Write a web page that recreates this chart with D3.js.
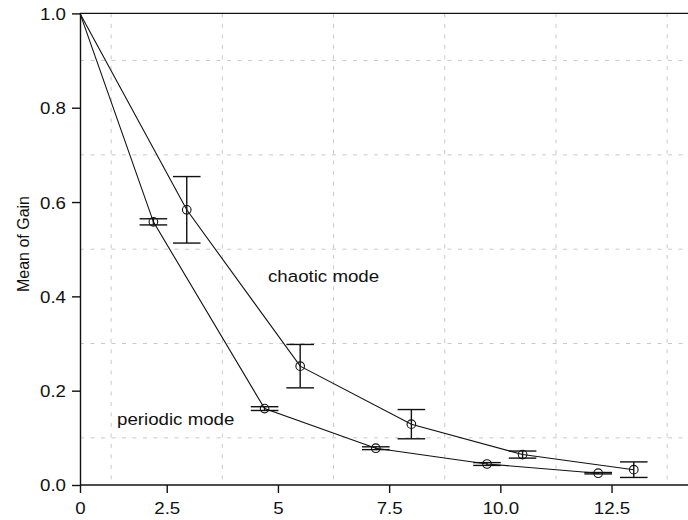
<!DOCTYPE html>
<html>
<head>
<meta charset="utf-8">
<script src="https://cdn.jsdelivr.net/npm/d3@7"></script>
<style>
  html, body { margin: 0; padding: 0; background: #fff; }
  svg { display: block; }
  text { font-family: "Liberation Sans", Arial, Helvetica, sans-serif; fill: #111; }
</style>
</head>
<body>
<svg id="chart" width="688" height="520"></svg>
<script>
// Axis ticks and grid
const xTickValues = [0.55, 2.5, 5, 7.5, 10, 12.5];
const xTickLabels = ["0", "2.5", "5", "7.5", "10.0", "12.5"];
const yTickValues = [0, 0.2, 0.4, 0.6, 0.8, 1.0];
const xGridValues = [1.25, 3.75, 6.25, 8.75, 11.25, 13.75];
const yGridValues = [0.1, 0.3, 0.5, 0.7, 0.9];

// Periodic mode: x position, mean gain, half-width of error bar
const periodicX    = [0.55, 2.2, 4.7, 7.2, 9.7, 12.2];
const periodicMean = [1.0, 0.558, 0.162, 0.078, 0.0445, 0.025];
const periodicErr  = [null, 0.0065, 0.004, 0.003, 0.003, 0.0015];

// Chaotic mode
const chaoticX    = [0.55, 2.95, 5.5, 8, 10.5, 13];
const chaoticMean = [1.0, 0.5835, 0.252, 0.129, 0.0645, 0.0325];
const chaoticErr  = [null, 0.0705, 0.046, 0.031, 0.0075, 0.0165];

const seriesLabels = ["periodic mode", "chaotic mode"];

const svg = d3.select("#chart");
const W = 688;

const x = d3.scaleLinear().domain([0.55, 15]).range([80, 80 + 14.45 * 44.48]);
const y = d3.scaleLinear().domain([0, 1]).range([485, 13.4]);

const fontSize = 17;
const stretch = 1.1;

// dashed grid
const grid = svg.append("g").attr("stroke", "#c9c9c9").attr("stroke-width", 1)
  .attr("stroke-dasharray", "4,6.5");
grid.selectAll("line.gx").data(xGridValues).join("line")
  .attr("x1", d => x(d)).attr("x2", d => x(d))
  .attr("y1", y(1)).attr("y2", y(0));
grid.selectAll("line.gy").data(yGridValues).join("line")
  .attr("x1", x(0.55)).attr("x2", W)
  .attr("y1", d => y(d)).attr("y2", d => y(d));

// top frame line
svg.append("line")
  .attr("x1", x(0.55)).attr("x2", W)
  .attr("y1", y(1)).attr("y2", y(1))
  .attr("stroke", "#111").attr("stroke-width", 1.4);

// axes
const xAxis = d3.axisBottom(x).tickValues(xTickValues)
  .tickFormat((d, i) => xTickLabels[i]).tickSize(8).tickSizeOuter(0);
const gx = svg.append("g").attr("transform", `translate(0,${y(0)})`).call(xAxis);
gx.select(".domain").attr("d", `M${x(0.55)},0H${W}`);

const yAxis = d3.axisLeft(y).tickValues(yTickValues)
  .tickFormat(d3.format(".1f")).tickSize(8).tickSizeOuter(0);
const gy = svg.append("g").attr("transform", `translate(${x(0.55)},0)`).call(yAxis);

[gx, gy].forEach(g => {
  g.select(".domain").attr("stroke", "#111").attr("stroke-width", 1.4);
  g.selectAll(".tick line").attr("stroke", "#111").attr("stroke-width", 1.4);
  g.selectAll(".tick text").attr("font-size", fontSize)
    .attr("font-family", "'Liberation Sans', Arial, sans-serif").attr("fill", "#111");
});
gx.selectAll(".tick text").attr("y", 0).attr("dy", 0)
  .attr("transform", `translate(0,29) scale(${stretch},1)`);
gy.selectAll(".tick text").attr("x", 0).attr("dy", "0.35em")
  .attr("transform", `translate(-14,0) scale(${stretch},1)`);

// y-axis title
svg.append("text")
  .attr("transform", `translate(29,244) rotate(-90)`)
  .attr("text-anchor", "middle")
  .attr("font-size", 16)
  .text("Mean of Gain");

// series
const series = [
  { xs: periodicX, m: periodicMean, e: periodicErr },
  { xs: chaoticX, m: chaoticMean, e: chaoticErr }
];
const capHalf = 13.8;
const line = d3.line().x(d => x(d.x)).y(d => y(d.m));

series.forEach(s => {
  const pts = s.xs.map((v, i) => ({ x: v, m: s.m[i], e: s.e[i] }));
  svg.append("path").datum(pts)
    .attr("d", line).attr("fill", "none")
    .attr("stroke", "#111").attr("stroke-width", 1.1);

  const bars = pts.filter(d => d.e !== null);
  const g = svg.append("g").attr("stroke", "#111").attr("stroke-width", 1.4).attr("fill", "none");
  g.selectAll("line.v").data(bars).join("line")
    .attr("x1", d => x(d.x)).attr("x2", d => x(d.x))
    .attr("y1", d => y(d.m + d.e)).attr("y2", d => y(d.m - d.e));
  g.selectAll("line.top").data(bars).join("line")
    .attr("x1", d => x(d.x) - capHalf).attr("x2", d => x(d.x) + capHalf)
    .attr("y1", d => y(d.m + d.e)).attr("y2", d => y(d.m + d.e));
  g.selectAll("line.bot").data(bars).join("line")
    .attr("x1", d => x(d.x) - capHalf).attr("x2", d => x(d.x) + capHalf)
    .attr("y1", d => y(d.m - d.e)).attr("y2", d => y(d.m - d.e));
  g.selectAll("circle").data(bars).join("circle")
    .attr("cx", d => x(d.x)).attr("cy", d => y(d.m)).attr("r", 4.3)
    .attr("stroke-width", 1.1);
});

// series annotations
svg.append("text")
  .attr("transform", `translate(117,425) scale(${stretch},1)`)
  .attr("font-size", fontSize).text(seriesLabels[0]);
svg.append("text")
  .attr("transform", `translate(268,282) scale(${stretch},1)`)
  .attr("font-size", fontSize).text(seriesLabels[1]);
</script>
</body>
</html>
